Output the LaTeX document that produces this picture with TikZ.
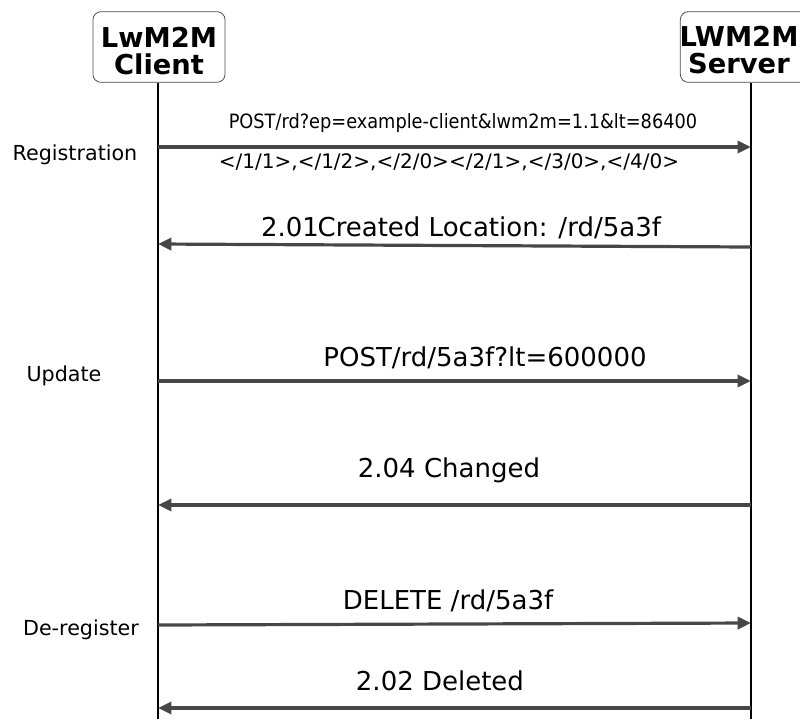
\documentclass[tikz,border=0pt]{standalone}
\usepackage{fontspec}
\setmainfont{DejaVu Sans}
\newfontfamily\condfont{DejaVu Sans Condensed}
\usetikzlibrary{arrows.meta}
\begin{document}
\begin{tikzpicture}[x=0.75pt,y=-0.75pt,
  actor/.style={draw=black!70,rounded corners=6pt,line width=0.6pt,minimum width=99pt,minimum height=53pt,inner sep=0pt},
  actortext/.style={align=center,font=\fontsize{20.5}{20.5}\selectfont\bfseries,inner sep=0pt},
  life/.style={black,line width=0.8pt},
  msg/.style={draw=black!72,line width=2.4pt,-{Triangle[length=10pt,width=9pt]}},
  lbl/.style={font=\fontsize{19.5}{22}\selectfont,inner sep=0pt},
  side/.style={font=\fontsize{15.5}{18}\selectfont,inner sep=0pt}]
\useasboundingbox (0,0) rectangle (800,719);
\begin{scope}
\clip (0,0) rectangle (800,719);
\node[actor] (client) at (159,47) {};
\node[actor,minimum width=100pt] (server) at (747,47) {};
\end{scope}
\node[actortext] (clientlbl) at (159,51) {LwM2M\\Client};
\node[actortext] (serverlbl) at (739,50) {LWM2M\\Server};
\coordinate (cbot) at (158,719);
\coordinate (sbot) at (751,719);
\draw[life] (client.south -| cbot) -- (cbot);
\draw[life] (server.south -| sbot) -- (sbot);
% messages
\coordinate (c1) at (158,147); \coordinate (s1) at (751,147);
\draw[msg] (c1) -- (s1);
\node[lbl,font=\condfont\fontsize{14.8}{17}\selectfont] (t1a) at (463,123) {POST/rd?ep=example-client\&lwm2m=1.1\&lt=86400};
\node[lbl,font=\fontsize{15}{17}\selectfont] (t1b) at (449,162) {</1/1>,</1/2>,</2/0></2/1>,</3/0>,</4/0>};
\coordinate (s2) at (751,247); \coordinate (c2) at (158,244);
\draw[msg] (s2) -- (c2);
\node[lbl] (t2) at (461,228) {2.01\kern-1pt Created Location: /rd/5a3f};
\coordinate (c3) at (158,381); \coordinate (s3) at (751,381);
\draw[msg] (c3) -- (s3);
\node[lbl] (t3) at (485,358) {POST/rd/5a3f?lt=600000};
\coordinate (s4) at (751,505); \coordinate (c4) at (158,505);
\draw[msg] (s4) -- (c4);
\node[lbl] (t4) at (449,470) {2.04 Changed};
\coordinate (c5) at (158,625); \coordinate (s5) at (751,623);
\draw[msg] (c5) -- (s5);
\node[lbl] (t5) at (448,601) {DELETE /rd/5a3f};
\coordinate (s6) at (751,708); \coordinate (c6) at (158,708);
\draw[msg] (s6) -- (c6);
\node[lbl] (t6) at (440,681) {2.02 Deleted};
% side labels
\node[side] (r) at (75,155) {Registration};
\node[side] (u) at (64,376) {Update};
\node[side] (d) at (81,630) {De-register};
\end{tikzpicture}
\end{document}
